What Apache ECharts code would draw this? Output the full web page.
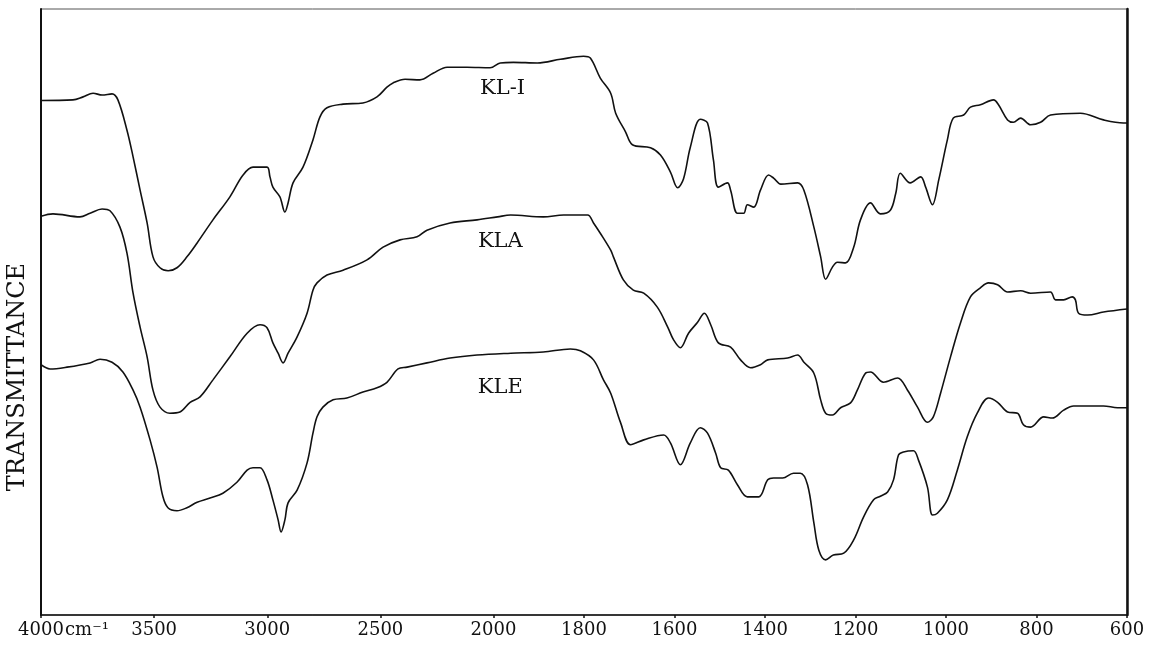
<!DOCTYPE html>
<html>
<head>
<meta charset="utf-8">
<script src="https://cdn.jsdelivr.net/npm/echarts@6/dist/echarts.min.js"></script>
<style>
html,body{margin:0;padding:0;background:#fff;}
#chart{width:1149px;height:648px;}
</style>
</head>
<body>
<div id="chart"></div>
<script>
// ---- data (wavenumber in cm-1, transmittance in arbitrary %) ----
const tickWN = [4000, 3500, 3000, 2500, 2000, 1800, 1600, 1400, 1200, 1000, 800, 600];
const seriesNames = ['KL-I', 'KLA', 'KLE'];

const klI_wn = [4000,3859,3814,3770,3730,3686,3660,3620,3593,3562,3531,3505,3474,3438,3399,3355,3310,3240,3165,3107,3063,3001,2988,2975,2944,2922,2908,2886,2842,2798,2767,2736,2665,2577,2515,2471,2444,2391,2325,2267,2205,2117,2015,1985,1956,1903,1852,1801,1786,1764,1741,1730,1708,1693,1653,1631,1609,1593,1580,1565,1543,1527,1514,1503,1483,1476,1461,1447,1439,1425,1410,1392,1381,1365,1328,1314,1292,1277,1266,1251,1240,1222,1204,1189,1167,1145,1123,1111,1101,1079,1056,1045,1030,1016,997,984,961,946,924,895,884,864,851,835,813,791,769,703,652,608,600];
const klI_t  = [84.9,85.0,85.5,86.1,85.8,86.0,85.0,80.0,75.6,70.1,64.7,59.1,57.3,56.8,57.3,59.1,61.4,65.2,69.0,72.6,73.9,73.9,72.3,70.6,69.0,66.5,68.0,71.3,73.9,78.4,82.2,83.7,84.3,84.5,85.5,87.1,87.8,88.4,88.3,89.4,90.4,90.4,90.3,91.1,91.2,91.1,91.7,92.2,91.9,88.6,86.1,82.8,79.7,77.6,77.1,75.9,73.1,70.5,72.0,77.2,81.8,81.2,75.1,70.6,71.3,70.1,66.3,66.3,67.7,67.3,70.1,72.6,72.1,71.1,71.3,70.1,64.0,59.1,55.4,57.4,58.2,58.1,60.7,65.2,68.0,66.2,66.8,69.6,72.9,71.3,72.3,70.6,67.7,71.8,78.4,82.0,82.5,83.8,84.2,85.0,84.2,81.7,81.3,82.0,80.9,81.3,82.5,82.8,81.7,81.2,81.2];

const klA_wn = [4000,3947,3828,3783,3730,3695,3651,3620,3593,3562,3531,3505,3474,3430,3386,3341,3297,3240,3165,3089,3032,3001,2975,2952,2930,2908,2868,2824,2798,2780,2736,2665,2559,2488,2413,2338,2294,2192,2073,1991,1962,1890,1845,1792,1779,1764,1741,1735,1713,1691,1668,1638,1615,1602,1587,1569,1549,1534,1520,1503,1476,1454,1432,1410,1394,1350,1328,1314,1292,1277,1266,1251,1233,1211,1196,1178,1167,1138,1107,1085,1063,1041,1028,1012,990,968,946,924,906,886,864,835,813,769,758,740,721,714,707,687,652,600];
const klA_t  = [65.8,66.2,65.7,66.3,67.0,66.7,64.0,59.7,53.1,47.5,42.6,37.1,34.3,33.3,33.5,35.1,36.0,38.8,42.6,46.5,47.9,47.4,44.9,43.2,41.6,43.2,45.9,49.8,53.6,54.8,56.1,56.9,58.6,60.7,61.9,62.4,63.5,64.7,65.2,65.7,66.0,65.7,66.0,66.0,64.7,63.0,60.2,59.1,55.3,53.6,53.1,50.8,47.5,45.4,44.1,46.5,48.3,49.8,47.9,44.9,44.2,42.1,40.8,41.3,42.1,42.4,42.9,41.7,39.9,35.5,33.3,33.0,34.2,35.0,37.1,39.9,40.1,38.4,39.1,37.1,34.3,31.8,32.7,36.6,42.6,48.2,52.5,54.0,54.8,54.5,53.3,53.5,53.1,53.3,52.0,52.0,52.5,52.0,49.8,49.5,50.0,50.5];

const klE_wn = [4000,3960,3885,3783,3739,3686,3638,3593,3562,3518,3487,3461,3439,3399,3355,3310,3253,3196,3134,3089,3063,3032,3001,2975,2952,2939,2922,2908,2868,2824,2798,2780,2754,2709,2648,2577,2515,2471,2422,2382,2294,2192,2073,1962,1890,1830,1808,1779,1757,1741,1719,1697,1668,1624,1609,1587,1565,1543,1527,1509,1498,1481,1461,1439,1414,1394,1381,1361,1337,1322,1306,1292,1281,1266,1249,1226,1204,1182,1160,1145,1129,1116,1105,1094,1072,1061,1041,1030,1019,997,975,953,931,906,886,864,842,829,813,784,765,740,718,652,621,600];
const klE_t  = [41.3,40.6,40.9,41.6,42.2,41.7,40.1,37.1,34.3,28.9,24.4,19.5,17.7,17.2,17.7,18.6,19.3,20.1,21.9,23.9,24.3,24.3,22.3,19.0,15.7,13.7,15.7,18.5,20.6,25.1,30.0,32.7,34.3,35.5,35.8,36.8,37.5,38.4,40.6,40.9,41.6,42.4,42.9,43.2,43.4,43.9,43.6,42.1,38.8,36.6,31.7,28.1,28.9,29.7,28.4,24.8,28.4,30.9,30.0,26.7,24.3,23.9,21.5,19.5,19.5,22.3,22.6,22.6,23.4,23.4,21.5,15.2,10.7,9.1,9.9,10.2,12.4,16.2,19.0,19.6,20.3,22.3,26.4,26.9,27.1,25.6,21.1,16.5,16.8,19.0,23.9,29.4,33.3,35.8,35.1,33.5,33.3,31.4,31.0,32.7,32.5,33.8,34.5,34.5,34.2,34.2];

// label anchor points (wavenumber, transmittance)
const labelWN = [1980, 1985, 1985];
const labelT  = [86.8, 61.7, 37.6];

// ---- axis transform: IR chart with scale change at 2000 cm-1 ----
function toAxis(wn) { return wn >= 2000 ? (4000 - wn) / 2 : 3000 - wn; }
function fromAxis(u) { return u <= 1000 ? 4000 - 2 * u : 3000 - u; }

const allWN = [klI_wn, klA_wn, klE_wn];
const allT = [klI_t, klA_t, klE_t];
const tickPos = tickWN.map(toAxis);

const FONT = '"DejaVu Serif", "Liberation Serif", serif';

const chart = echarts.init(document.getElementById('chart'), null, {renderer: 'canvas'});

const series = seriesNames.map((name, k) => ({
  name: name,
  type: 'line',
  data: allWN[k].map((w, i) => [toAxis(w), allT[k][i]]),
  showSymbol: false,
  smooth: 0.35,
  lineStyle: {color: '#111', width: 1.6},
  silent: true
}));

chart.setOption({
  animation: false,
  backgroundColor: '#fff',
  grid: {left: 41, right: 22, top: 9, bottom: 33, show: true, borderColor: '#555', borderWidth: 1},
  xAxis: {
    type: 'value', min: 0, max: 2400,
    axisLine: {show: true, lineStyle: {color: '#111', width: 1.5}},
    axisTick: {show: true, customValues: tickPos, length: 3, inside: false, lineStyle: {color: '#111', width: 1.5}},
    axisLabel: {
      show: true, customValues: tickPos, margin: 6,
      color: '#111', fontFamily: FONT, fontSize: 18,
      formatter: v => String(Math.round(fromAxis(v)))
    },
    splitLine: {show: false}
  },
  yAxis: [
    {type: 'value', min: 0, max: 100, position: 'left',
     axisLine: {show: true, lineStyle: {color: '#111', width: 2}},
     axisTick: {show: false}, axisLabel: {show: false}, splitLine: {show: false}},
    {type: 'value', min: 0, max: 100, position: 'right',
     axisLine: {show: true, lineStyle: {color: '#111', width: 2.5}},
     axisTick: {show: false}, axisLabel: {show: false}, splitLine: {show: false}}
  ],
  series: series
});

// annotations placed from data coordinates
const g = [];
seriesNames.forEach((name, k) => {
  const p = chart.convertToPixel({gridIndex: 0}, [toAxis(labelWN[k]), labelT[k]]);
  g.push({type: 'text', x: p[0], y: p[1], silent: true,
    style: {text: name, fill: '#111', font: '21px ' + FONT, align: 'center', verticalAlign: 'middle'}});
});
const p0 = chart.convertToPixel({gridIndex: 0}, [toAxis(4000), 0]);
g.push({type: 'text', x: p0[0] + 24, y: p0[1] + 6, silent: true,
  style: {text: 'cm⁻¹', fill: '#111', font: '18px ' + FONT, align: 'left', verticalAlign: 'top'}});
g.push({type: 'text', x: 18, y: 377, rotation: Math.PI / 2, silent: true,
  style: {text: 'TRANSMITTANCE', fill: '#111', font: '24px ' + FONT, align: 'center', verticalAlign: 'middle'}});
chart.setOption({graphic: g});
</script>
</body>
</html>
